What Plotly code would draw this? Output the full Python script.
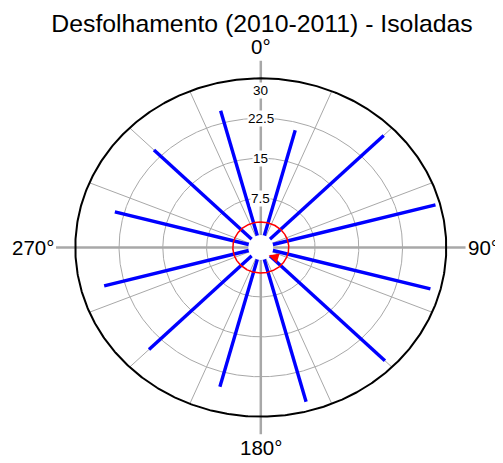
import numpy as np
import plotly.graph_objects as go

# ---------------- data ----------------
title_text = "Desfolhamento (2010-2011) - Isoladas"
angles_deg = [15, 45, 75, 105, 135, 165, 195, 225, 255, 285, 315, 345]
lengths = [21.0, 28.0, 29.2, 28.3, 28.3, 28.2, 25.3, 25.3, 26.0, 24.1, 24.1, 24.8]
ring_values = [7.5, 15, 22.5]
ring_labels = ["7.5", "15", "22.5", "30"]
ring_label_values = [7.5, 15, 22.5, 30]
r_max = 30
direction_labels = ["0°", "90°", "180°", "270°"]
direction_angles = [0, 90, 180, 270]
spoke_step = 22.5
mean_angle = 130      # direction of the red mean-vector arrow
mean_length = 1.3     # length of the red mean-vector arrow
ci_radius = 3.0       # red circle

# ---------------- geometry helpers ----------------
hole = 1.8            # radial offset (inner hole) in data units


def pol(r, deg):
    R = np.asarray(r, dtype=float) + hole
    t = np.deg2rad(np.asarray(deg, dtype=float))
    return R * np.sin(t), R * np.cos(t)


fig = go.Figure()
grey = "#a8a8a8"
theta_full = np.linspace(0, 360, 721)

# rings
for rv in ring_values:
    x, y = pol(np.full_like(theta_full, rv), theta_full)
    fig.add_trace(go.Scatter(x=x, y=y, mode="lines", line=dict(color=grey, width=1),
                             hoverinfo="skip", showlegend=False))

# thin spokes
for a in np.arange(0, 360, spoke_step):
    if a % 90 == 0:
        continue
    x, y = pol([-hole, r_max], [a, a])
    fig.add_trace(go.Scatter(x=x, y=y, mode="lines", line=dict(color=grey, width=1),
                             hoverinfo="skip", showlegend=False))

# main axis lines (extend beyond outer ring)
axis_ext = 33.3
for a in direction_angles:
    x, y = pol([-hole, axis_ext], [a, a])
    fig.add_trace(go.Scatter(x=x, y=y, mode="lines", line=dict(color=grey, width=2.5),
                             hoverinfo="skip", showlegend=False))

# outer boundary
x, y = pol(np.full_like(theta_full, r_max), theta_full)
fig.add_trace(go.Scatter(x=x, y=y, mode="lines", line=dict(color="black", width=2),
                         hoverinfo="skip", showlegend=False))

# blue data lines
for a, L in zip(angles_deg, lengths):
    x, y = pol([0, L], [a, a])
    fig.add_trace(go.Scatter(x=x, y=y, mode="lines", line=dict(color="#0000ff", width=3.4),
                             hoverinfo="skip", showlegend=False))

# red circle
x, y = pol(np.full_like(theta_full, ci_radius), theta_full)
fig.add_trace(go.Scatter(x=x, y=y, mode="lines", line=dict(color="red", width=1.5),
                         hoverinfo="skip", showlegend=False))

# white hole
fig.add_trace(go.Scatter(x=[0], y=[0], mode="markers",
                         marker=dict(color="white", size=25, line=dict(width=0)),
                         hoverinfo="skip", showlegend=False))

font_family = "Arial, Liberation Sans, Helvetica, sans-serif"
annotations = []

# red mean-vector arrowhead
hx, hy = pol(0.2, mean_angle + 8)
tx, ty = pol(mean_length, mean_angle - 3)
annotations.append(dict(x=float(hx), y=float(hy), ax=float(tx), ay=float(ty),
                        xref="x", yref="y", axref="x", ayref="y",
                        showarrow=True, arrowhead=2, arrowsize=1.0, arrowwidth=2,
                        arrowcolor="red", text=""))

# radial labels
for lab, v in zip(ring_labels, ring_label_values):
    x, y = pol(v, 0)
    annotations.append(dict(x=0, y=float(y), text=lab, showarrow=False,
                            xref="x", yref="y", bgcolor="white", borderpad=0,
                            yshift=-12 if v == r_max else 0,
                            font=dict(family=font_family, size=13.5, color="black")))

# direction labels
lab_pos = {0: dict(xanchor="center", yanchor="bottom", yshift=1),
           90: dict(xanchor="left", yanchor="middle"),
           180: dict(xanchor="center", yanchor="top"),
           270: dict(xanchor="right", yanchor="middle")}
for lab, a in zip(direction_labels, direction_angles):
    x, y = pol(axis_ext, a)
    annotations.append(dict(x=float(x), y=float(y), text=lab, showarrow=False,
                            xref="x", yref="y",
                            font=dict(family=font_family, size=20.5, color="black"),
                            **lab_pos[a]))

# page body has an 8px margin: the figure starts at (8, 8)
OFF = 8
W, H = 503 - OFF, 463 - OFF
kx, ky = 5.833, 5.32
cx, cy = 260.8 - OFF, 247.5 - OFF

fig.update_layout(
    width=W, height=H, autosize=False,
    margin=dict(l=0, r=0, t=0, b=0),
    paper_bgcolor="white", plot_bgcolor="white",
    title=dict(text=title_text, x=(262 - OFF) / W, xanchor="center",
               y=1 - (23.5 - OFF) / H, yanchor="middle",
               yref="container", font=dict(family=font_family, size=24.8, color="black")),
    xaxis=dict(range=[-cx / kx, (W - cx) / kx], visible=False, fixedrange=True),
    yaxis=dict(range=[-(H - cy) / ky, cy / ky], visible=False, fixedrange=True),
    annotations=annotations,
    showlegend=False,
)

fig.write_html("out.html")
